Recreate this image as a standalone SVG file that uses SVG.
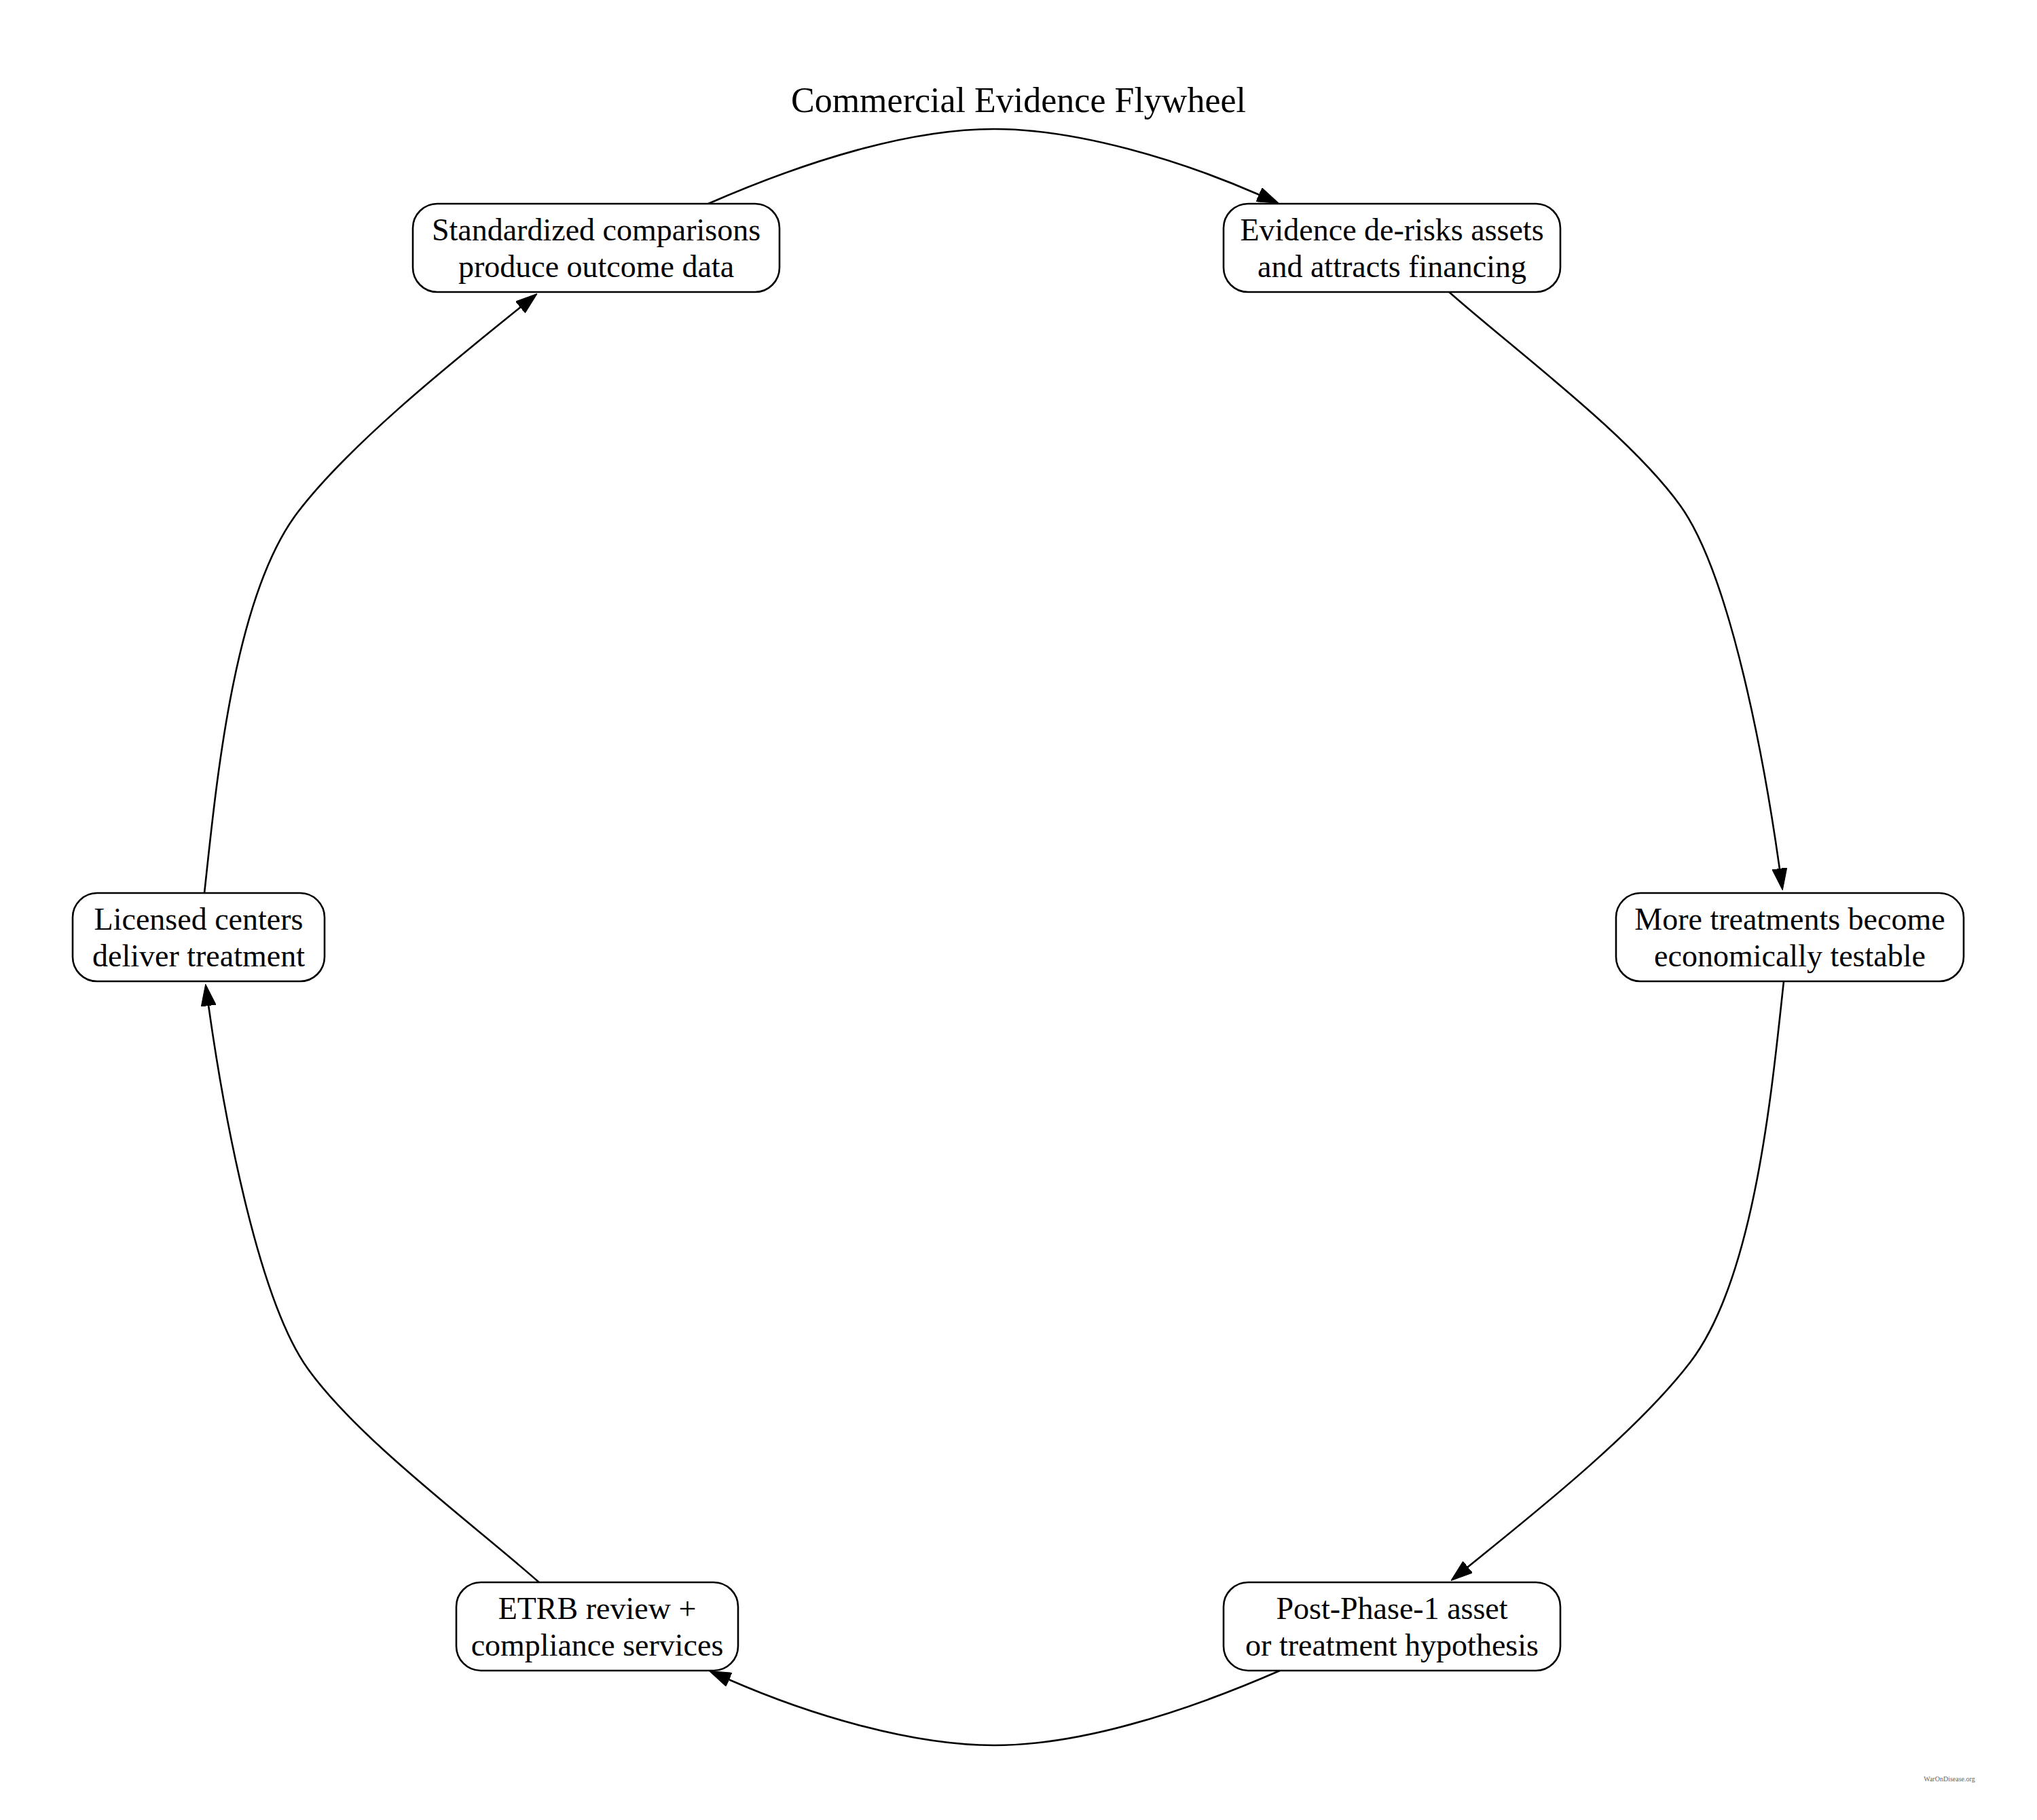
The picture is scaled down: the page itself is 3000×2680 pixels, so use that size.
<svg xmlns="http://www.w3.org/2000/svg" width="3000" height="2680" viewBox="0 0 3000 2680">
<defs>
<style>
.node rect{fill:#fff;stroke:#000;stroke-width:2.6}
.node text{font-family:"Liberation Serif","DejaVu Serif",serif;font-size:46px;fill:#000;text-anchor:middle}
.edge{fill:none;stroke:#000;stroke-width:2.6;marker-end:url(#arrow)}
.title{font-family:"Liberation Serif","DejaVu Serif",serif;font-size:52px;fill:#000;text-anchor:middle}
.wm{font-family:"Liberation Serif","DejaVu Serif",serif;font-size:10px;fill:#666;text-anchor:middle}
</style>
<marker id="arrow" viewBox="0 0 32 22" refX="1" refY="11" markerWidth="32" markerHeight="22" markerUnits="userSpaceOnUse" orient="auto">
<polygon points="0,0 32,11 0,22" fill="#000" stroke="#000" stroke-width="1"/>
</marker>
</defs>
<rect width="3000" height="2680" fill="#fff"/>
<text class="title" x="1500" y="165">Commercial Evidence Flywheel</text>
<g id="connectors">
<path id="e1" class="edge" d="M1043,300 C1192,235 1342,190 1464,190 C1586,190 1736,235 1855,287"/>
<path id="e2" class="edge" d="M2133,429 C2230,515 2400,640 2475,745 C2550,850 2600,1130 2621,1280"/>
<path id="e3" class="edge" d="M2627,1445 C2610,1600 2585,1880 2490,2005 C2410,2110 2250,2236 2161,2308"/>
<path id="e4" class="edge" d="M1885,2460 C1736,2525 1586,2570 1464,2570 C1342,2570 1192,2525 1073,2473"/>
<path id="e5" class="edge" d="M795,2331 C698,2245 528,2120 453,2015 C378,1910 328,1630 307,1480"/>
<path id="e6" class="edge" d="M301,1315 C318,1160 343,880 438,755 C518,650 678,524 767,452"/>
</g>
<g id="n1" class="node">
<rect x="608" y="300" width="540" height="130" rx="36"/>
<text x="878" y="354">Standardized comparisons</text>
<text x="878" y="408">produce outcome data</text>
</g>
<g id="n2" class="node">
<rect x="1802" y="300" width="496" height="130" rx="36"/>
<text x="2050" y="354">Evidence de-risks assets</text>
<text x="2050" y="408">and attracts financing</text>
</g>
<g id="n3" class="node">
<rect x="107" y="1315" width="371" height="130" rx="36"/>
<text x="292.5" y="1369">Licensed centers</text>
<text x="292.5" y="1423">deliver treatment</text>
</g>
<g id="n4" class="node">
<rect x="2380" y="1315" width="512" height="130" rx="36"/>
<text x="2636" y="1369">More treatments become</text>
<text x="2636" y="1423">economically testable</text>
</g>
<g id="n5" class="node">
<rect x="672" y="2330" width="415" height="130" rx="36"/>
<text x="879.5" y="2384">ETRB review +</text>
<text x="879.5" y="2438">compliance services</text>
</g>
<g id="n6" class="node">
<rect x="1802" y="2330" width="496" height="130" rx="36"/>
<text x="2050" y="2384">Post-Phase-1 asset</text>
<text x="2050" y="2438">or treatment hypothesis</text>
</g>
<text class="wm" x="2871" y="2623">WarOnDisease.org</text>
</svg>
